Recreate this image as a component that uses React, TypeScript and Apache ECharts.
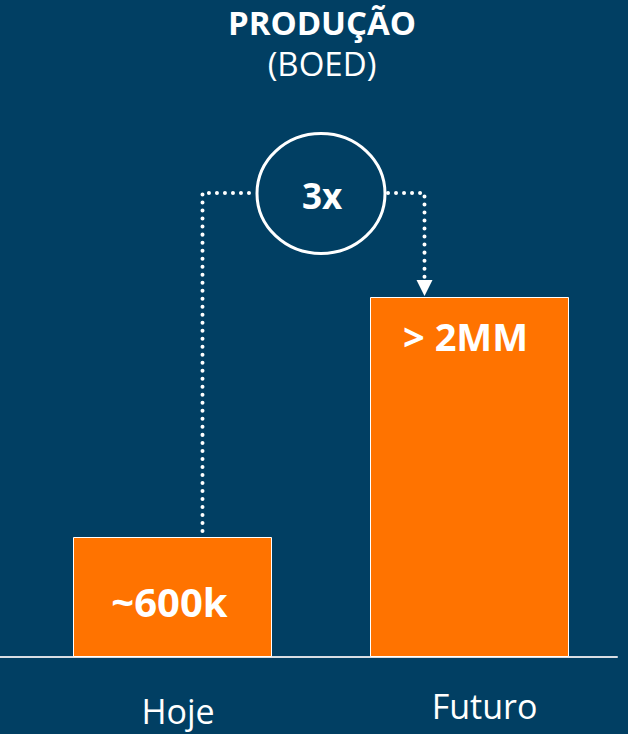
import React, { useEffect, useRef } from "react";
import * as echarts from "echarts";

const categories = ["Hoje", "Futuro"];
const values = [600, 1800];
const valueLabels = ["~600k", "> 2MM"];
const titleText = "PRODUÇÃO";
const subtitleText = "(BOED)";
const ratioText = "3x";
const yMax = 2000;
const connectorLevel = 2320;

const BG = "#013F63";
const ORANGE = "#FF7300";
const FONT = "'Open Sans', 'Noto Sans', sans-serif";

export default function App() {
  const ref = useRef<HTMLDivElement>(null);
  useEffect(() => {
    document.body.style.margin = "0";
    document.body.style.background = BG;
    const chart = echarts.init(ref.current!, null, { renderer: "svg" });
    const option: any = {
      animation: false,
      backgroundColor: BG,
      textStyle: { fontFamily: FONT },
      title: [
        {
          text: titleText,
          left: 322,
          top: 6,
          padding: 0,
          textAlign: "center",
          textStyle: { color: "#fff", fontSize: 33, fontWeight: "bold", fontFamily: FONT },
        },
        {
          text: subtitleText,
          left: 322,
          top: 47,
          padding: 0,
          textAlign: "center",
          textStyle: { color: "#fff", fontSize: 33, fontWeight: "normal", fontFamily: FONT },
        },
      ],
      grid: [
        { left: 24, right: 10, top: 257, bottom: 77 },
        { left: 0, right: 11, top: 257, bottom: 77 },
      ],
      xAxis: [
        {
          type: "category",
          gridIndex: 0,
          data: categories,
          axisLine: { show: false },
          axisTick: { show: false },
          axisLabel: {
            margin: 32,
            formatter: (v: string, i: number) => (i === 0 ? `{h|${v}}` : `{f|${v}}`),
            rich: {
              h: { color: "#fff", fontSize: 34, fontFamily: FONT, padding: [5, 0, 0, 11] },
              f: { color: "#fff", fontSize: 34, fontFamily: FONT, padding: [0, 0, 0, 30] },
            },
          },
        },
        {
          type: "category",
          gridIndex: 1,
          data: categories,
          axisLine: { show: true, lineStyle: { color: "#d8dde3", width: 2 } },
          axisTick: { show: false },
          axisLabel: { show: false },
        },
      ],
      yAxis: [
        { type: "value", gridIndex: 0, min: 0, max: yMax, show: false, splitLine: { show: false } },
        { type: "value", gridIndex: 1, min: 0, max: yMax, show: false, splitLine: { show: false } },
      ],
      series: [
        {
          type: "bar",
          xAxisIndex: 0,
          yAxisIndex: 0,
          barWidth: 199,
          itemStyle: { color: ORANGE, borderColor: "#fff", borderWidth: 1 },
          data: values.map((v, i) => ({
            value: v,
            label: {
              show: true,
              formatter: valueLabels[i],
              color: "#fff",
              fontWeight: "bold",
              fontFamily: FONT,
              ...(i === 0
                ? { position: "inside", offset: [-3, 4], fontSize: 40 }
                : { position: ["48%", 39], align: "center", verticalAlign: "middle", fontSize: 38 }),
            },
          })),
        },
      ],
    };
    chart.setOption(option);

    const pH = chart.convertToPixel({ gridIndex: 0 }, [categories[0], values[0]]) as number[];
    const pF = chart.convertToPixel({ gridIndex: 0 }, [categories[1], values[1]]) as number[];
    const cy = (chart.convertToPixel({ gridIndex: 0 }, [categories[0], connectorLevel]) as number[])[1];
    const cx = (pH[0] + pF[0]) / 2;
    const rx = 64;
    const ry = 60;
    const lx = pH[0] + 30;
    const rxLine = pF[0] - 45;
    const dotted = {
      stroke: "#fff",
      lineWidth: 4,
      lineDash: [0.01, 8],
      lineCap: "round",
      fill: null,
    };
    chart.setOption({
      graphic: [
        {
          type: "polyline",
          shape: { points: [[lx, pH[1] - 6], [lx, cy], [cx - rx - 5, cy]] },
          style: dotted,
          silent: true,
        },
        {
          type: "polyline",
          shape: { points: [[cx + rx + 3, cy], [rxLine, cy], [rxLine, pF[1] - 18]] },
          style: dotted,
          silent: true,
        },
        {
          type: "polygon",
          shape: { points: [[rxLine - 8, pF[1] - 17], [rxLine + 8, pF[1] - 17], [rxLine, pF[1] - 1]] },
          style: { fill: "#fff" },
          silent: true,
        },
        {
          type: "ellipse",
          shape: { cx: cx, cy: cy + 0.5, rx: rx, ry: ry },
          style: { stroke: "#fff", lineWidth: 3, fill: null },
          silent: true,
        },
        {
          type: "text",
          x: cx + 1,
          y: cy + 2,
          style: {
            text: ratioText,
            fill: "#fff",
            fontSize: 35,
            fontWeight: "bold",
            fontFamily: FONT,
            align: "center",
            verticalAlign: "middle",
          },
          silent: true,
        },
      ],
    });
    return () => chart.dispose();
  }, []);
  return <div ref={ref} style={{ width: 628, height: 734 }} />;
}
